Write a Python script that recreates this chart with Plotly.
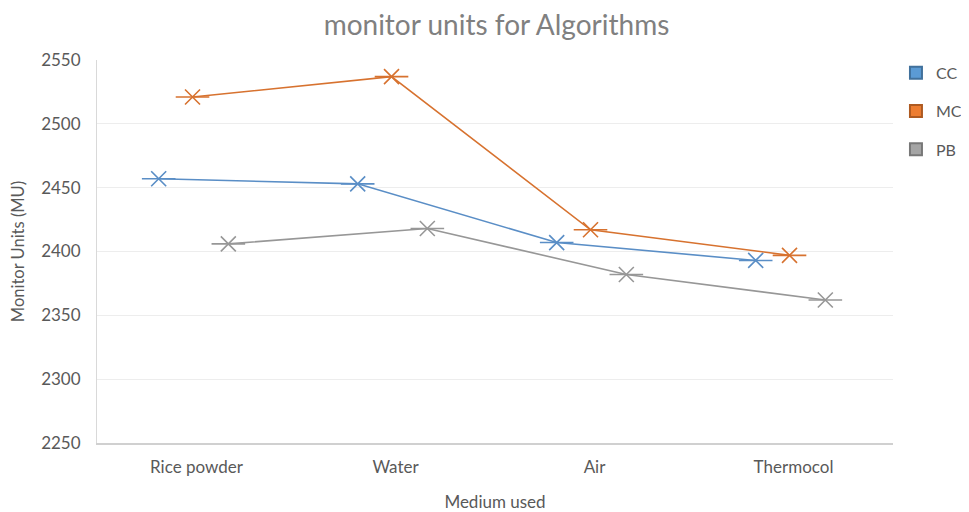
import plotly.graph_objects as go

categories = ["Rice powder", "Water", "Air", "Thermocol"]
series_names = ["CC", "MC", "PB"]
cc_values = [2457, 2453, 2407, 2393]
mc_values = [2521, 2537, 2417, 2397]
pb_values = [2406, 2418, 2382, 2362]
y_ticks = [2250, 2300, 2350, 2400, 2450, 2500, 2550]

values = [cc_values, mc_values, pb_values]
colors = ["#5B9BD5", "#ED7D31", "#A5A5A5"]
line_colors = ["#5A8EC6", "#D7722F", "#979797"]
edge_colors = ["#41719C", "#AE5A21", "#787878"]
offsets = [-0.19, -0.02, 0.16]
FONT = "Lato, Open Sans, sans-serif"

fig = go.Figure()
for name, vals, col, lcol, off in zip(series_names, values, colors, line_colors, offsets):
    xs = [i + off for i in range(len(categories))]
    fig.add_trace(go.Scatter(
        x=xs, y=vals, mode="lines+markers", name=name, showlegend=False,
        line=dict(color=lcol, width=1.6),
        marker=dict(symbol="x-thin", size=15, line=dict(color=lcol, width=1.6)),
        hovertemplate="%{y}<extra>" + name + "</extra>",
    ))
    fig.add_trace(go.Scatter(
        x=xs, y=vals, mode="markers", showlegend=False, hoverinfo="skip",
        marker=dict(symbol="line-ew", size=24, line=dict(color=lcol, width=1.6)),
    ))

for i, (name, col, ecol) in enumerate(zip(series_names, colors, edge_colors)):
    fig.add_trace(go.Scatter(
        x=[None], y=[None], mode="markers", name=name, legendgroup=name,
        marker=dict(symbol="square", size=16, color=col, line=dict(color=ecol, width=1)),
    ))

fig.update_layout(
    width=961, height=504,
    paper_bgcolor="white", plot_bgcolor="white",
    margin=dict(l=89, r=76, t=52, b=69),
    title=dict(text="monitor units for Algorithms", x=0.5083, xanchor="center",
               y=0.9663, yanchor="middle",
               font=dict(family=FONT, size=28, color="#808080")),
    font=dict(family=FONT, size=17, color="#595959"),
    legend=dict(xref="container", x=0.924, xanchor="left",
                yref="paper", y=1.011, yanchor="top",
                font=dict(family=FONT, size=16, color="#595959"),
                tracegroupgap=14.5, itemsizing="constant", itemwidth=30),
    xaxis=dict(range=[-0.5, 3.5], tickmode="array", tickvals=list(range(len(categories))),
               ticktext=categories, showgrid=False, zeroline=False,
               showline=True, linecolor="#D0D0D0", linewidth=1.5, ticks="",
               ticklabelstandoff=8, automargin=False,
               tickfont=dict(size=17, color="#595959"),
               title=dict(text="Medium used", font=dict(size=17, color="#595959"), standoff=30)),
    yaxis=dict(range=[2250, 2550], tickmode="array", tickvals=y_ticks,
               showgrid=True, gridcolor="#EDEDED", gridwidth=1, zeroline=False,
               showline=True, linecolor="#D9D9D9", linewidth=1, ticks="",
               ticklabelstandoff=12, automargin=False,
               tickfont=dict(size=17, color="#595959"),
               title=dict(text="Monitor Units (MU)", font=dict(size=16.5, color="#595959"), standoff=14)),
)

fig.write_html("out.html")
